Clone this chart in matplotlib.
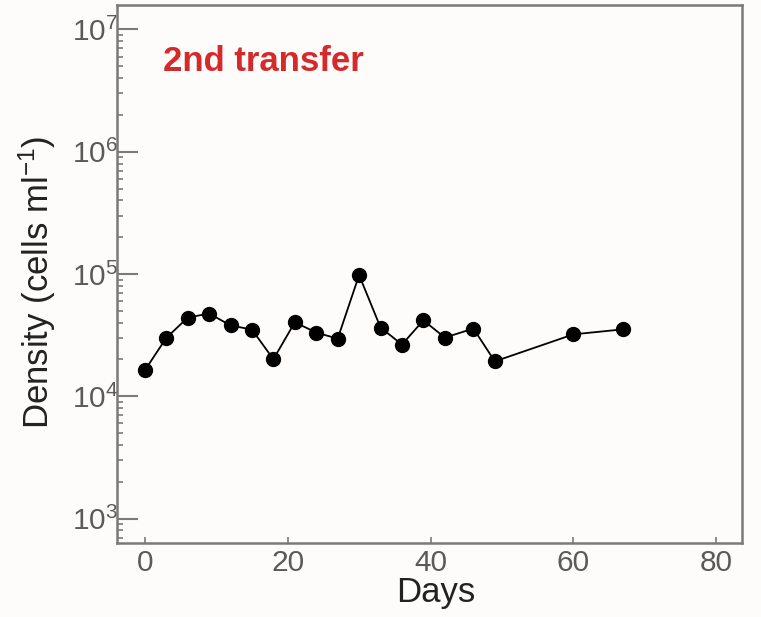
import numpy as np
import matplotlib.pyplot as plt
from matplotlib.ticker import LogLocator, NullFormatter, FixedLocator

plt.rcParams['font.family'] = ['Liberation Sans', 'DejaVu Sans']
plt.rcParams['mathtext.fontset'] = 'custom'
plt.rcParams['mathtext.rm'] = 'Liberation Sans'
plt.rcParams['mathtext.it'] = 'Liberation Sans'

### Data ###
days = [0, 3, 6, 9, 12, 15, 18, 21, 24, 27, 30, 33, 36, 39, 42, 46, 49, 60, 67]
density = [16300, 30000, 44000, 47500, 38000, 35100, 20100, 40300, 33200, 29600,
           98000, 36500, 26500, 41800, 30200, 35800, 19300, 32100, 35300]

x_ticks = [0, 20, 40, 60, 80]
y_ticks = [1e3, 1e4, 1e5, 1e6, 1e7]
y_labels = ['$10^{3}$', '$10^{4}$', '$10^{5}$', '$10^{6}$', '$10^{7}$']

GRAY = '#5a5a5a'
SPINE = '#7a7a7a'

### Plot ###
fig = plt.figure(figsize=(7.61, 6.17), dpi=100, facecolor='#fdfcfb')
ax = fig.add_axes([0.1537, 0.1199, 0.8213, 0.872])
ax.set_facecolor('#fdfcfb')

ax.plot(days, density, color='black', linewidth=1.3, marker='o',
        markersize=10, markerfacecolor='black', markeredgecolor='black')

ax.set_yscale('log')
ax.set_xlim(-3.9, 83.6)
ax.set_ylim(10**2.8, 10**7.2)

ax.yaxis.set_major_locator(FixedLocator(y_ticks))
ax.set_yticklabels(y_labels)
ax.yaxis.set_minor_locator(LogLocator(base=10, subs=np.arange(2, 10)))
ax.yaxis.set_minor_formatter(NullFormatter())
ax.set_xticks(x_ticks)

ax.tick_params(axis='y', which='major', direction='in', length=15, width=1.5,
               color=SPINE, labelsize=21.5, labelcolor=GRAY, pad=-1)
ax.tick_params(axis='y', which='minor', direction='in', length=4, width=1.2,
               color=SPINE)
ax.tick_params(axis='x', which='major', direction='in', length=4, width=1.2,
               color=SPINE, labelsize=21.5, labelcolor=GRAY, pad=4)

for side in ['left', 'right', 'top', 'bottom']:
    ax.spines[side].set_color(SPINE)
    ax.spines[side].set_linewidth(1.8)

ax.set_xlabel('Days', fontsize=25, color='#222222', labelpad=0)
ax.set_ylabel('Density (cells ml$^{-1}$)', fontsize=25, color='#222222')
ax.yaxis.set_label_coords(-0.094, 0.485)
ax.xaxis.set_label_coords(0.51, -0.062)

ax.text(0.074, 0.895, '2nd transfer', transform=ax.transAxes, fontsize=25,
        fontweight='bold', color='#d42a2a', ha='left', va='center')

plt.savefig('out.png', dpi=100, facecolor=fig.get_facecolor())
